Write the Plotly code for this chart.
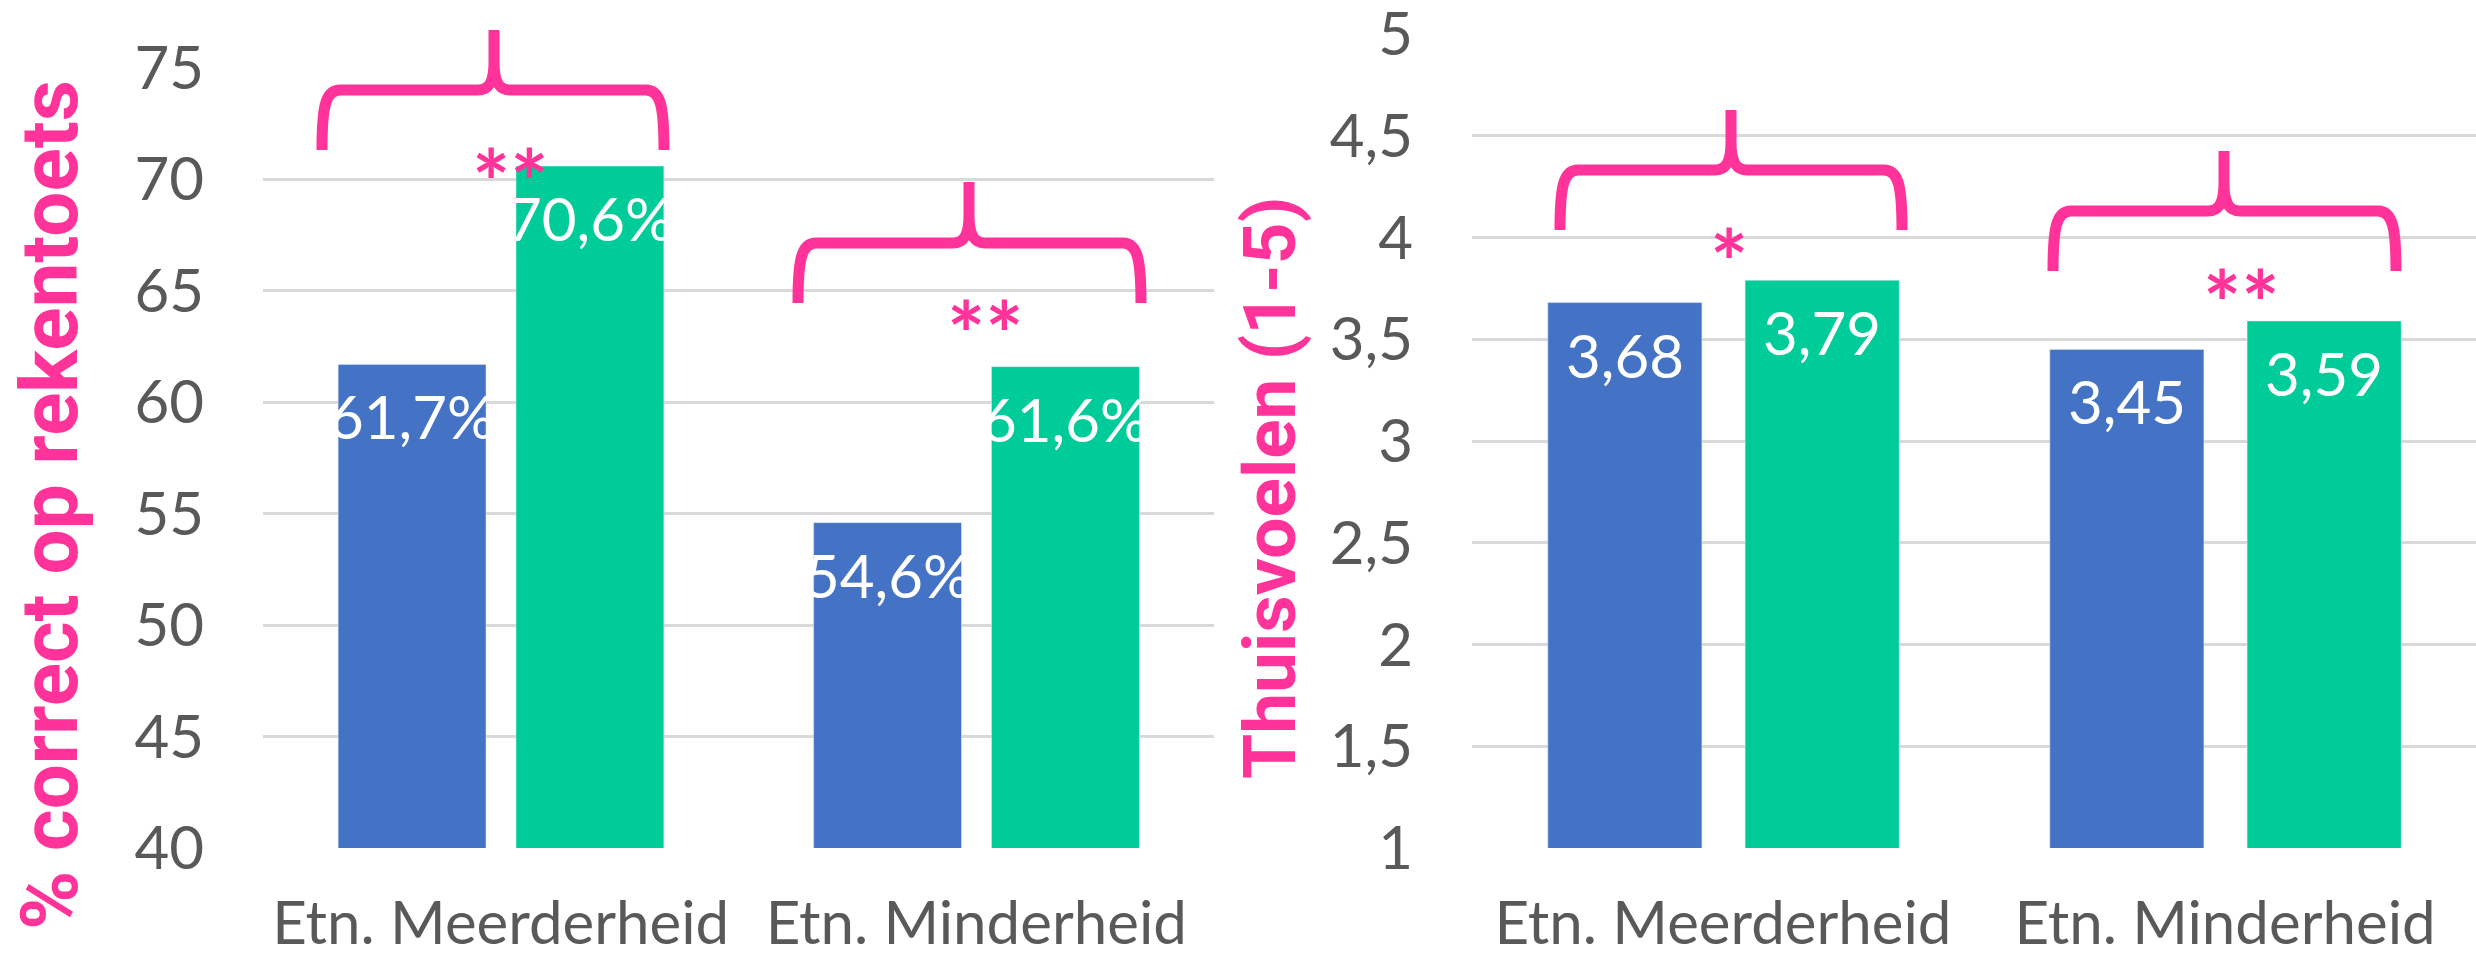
import plotly.graph_objects as go

# ---------------- data ----------------
categories = ["Etn. Meerderheid", "Etn. Minderheid"]
reken_blue = [61.7, 54.6]
reken_green = [70.6, 61.6]
thuis_blue = [3.68, 3.45]
thuis_green = [3.79, 3.59]
left_title = "% correct op rekentoets"
right_title = "Thuisvoelen (1-5)"
left_stars = ["**", "**"]
right_stars = ["*", "**"]

# ---------------- style ----------------
W, H = 2476, 956
BLUE = "#4472C4"
GREEN = "#00CC99"
PINK = "#FF3399"
GRID = "#D9D9D9"
TXT = "#595959"
FONT = "Lato"
TSIZE = 60


def px(x):
    return x / W


def py(y):
    return 1 - y / H


fig = go.Figure()

LW = 0.311
LOFF = (-0.342, 0.032)
RW = 0.307
ROFF = (-0.349, 0.044)

fig.add_trace(go.Bar(x=categories, y=reken_blue, marker_color=BLUE, width=LW, offset=LOFF[0],
                     xaxis="x", yaxis="y", showlegend=False, hoverinfo="skip"))
fig.add_trace(go.Bar(x=categories, y=reken_green, marker_color=GREEN, width=LW, offset=LOFF[1],
                     xaxis="x", yaxis="y", showlegend=False, hoverinfo="skip"))
fig.add_trace(go.Bar(x=categories, y=thuis_blue, marker_color=BLUE, width=RW, offset=ROFF[0],
                     xaxis="x2", yaxis="y2", showlegend=False, hoverinfo="skip"))
fig.add_trace(go.Bar(x=categories, y=thuis_green, marker_color=GREEN, width=RW, offset=ROFF[1],
                     xaxis="x2", yaxis="y2", showlegend=False, hoverinfo="skip"))

annotations = []
for i, (b, g) in enumerate(zip(reken_blue, reken_green)):
    for v, off in ((b, LOFF[0]), (g, LOFF[1])):
        annotations.append(dict(x=i + off + LW / 2, y=v, xref="x", yref="y",
                                text=f"{v:.1f}%".replace(".", ","), showarrow=False,
                                yshift=-52, yanchor="middle", xanchor="center",
                                font=dict(family=FONT, size=TSIZE, color="white")))
for i, (b, g) in enumerate(zip(thuis_blue, thuis_green)):
    for v, off in ((b, ROFF[0]), (g, ROFF[1])):
        annotations.append(dict(x=i + off + RW / 2, y=v, xref="x2", yref="y2",
                                text=f"{v:.2f}".replace(".", ","), showarrow=False,
                                yshift=-52, yanchor="middle", xanchor="center",
                                font=dict(family=FONT, size=TSIZE, color="white")))

annotations.append(dict(x=px(50), y=py(505), xref="paper", yref="paper", text="<b>" + left_title + "</b>",
                        textangle=-90, showarrow=False, xanchor="center", yanchor="middle",
                        font=dict(family="Roboto", size=80, color=PINK)))
annotations.append(dict(x=px(1270), y=py(488), xref="paper", yref="paper", text="<b>" + right_title + "</b>",
                        textangle=-90, showarrow=False, xanchor="center", yanchor="middle",
                        font=dict(family="Roboto", size=73, color=PINK)))

star_pos = [(510, 181), (986, 333), (1729, 261), (2241, 302)]
for s, (sx, sy) in zip(left_stars + right_stars, star_pos):
    annotations.append(dict(x=px(sx), y=py(sy), xref="paper", yref="paper", text="<b>" + s + "</b>",
                            showarrow=False, xanchor="center", yanchor="middle",
                            font=dict(family=FONT, size=90, color=PINK)))


def brace(xl, xr, xm, yb, yh, yt):
    def P(x, y):
        return f"{px(x):.5f},{py(y):.5f}"

    d = (f"M {P(xl, yb)} C {P(xl, yh + 18)} {P(xl + 3, yh)} {P(xl + 18, yh)} "
         f"L {P(xm - 16, yh)} C {P(xm - 4, yh)} {P(xm, yh - 10)} {P(xm, yh - 28)} L {P(xm, yt)} "
         f"M {P(xm, yh - 28)} C {P(xm, yh - 10)} {P(xm + 4, yh)} {P(xm + 16, yh)} "
         f"L {P(xr - 18, yh)} C {P(xr - 3, yh)} {P(xr, yh + 18)} {P(xr, yb)}")
    return dict(type="path", path=d, xref="paper", yref="paper",
                line=dict(color=PINK, width=11), layer="above")


shapes = [
    brace(322, 664, 494, 150, 90, 30),
    brace(798, 1141, 969, 303, 243, 182),
    brace(1560, 1902, 1731, 230, 170, 110),
    brace(2053, 2396, 2224, 271, 211, 151),
]

axis_common = dict(showline=False, zeroline=False, ticks="", automargin=False, ticklabeloverflow="allow",
                   tickfont=dict(family=FONT, size=TSIZE, color=TXT))

fig.update_layout(
    width=W, height=H,
    margin=dict(l=0, r=0, t=0, b=0, pad=0),
    paper_bgcolor="white", plot_bgcolor="white",
    separators=",.",
    barmode="group",
    showlegend=False,
    xaxis=dict(domain=[px(263), px(1214)], anchor="y", showgrid=False, ticklabelstandoff=35, **axis_common),
    yaxis=dict(domain=[py(848), py(68)], anchor="x", range=[40, 75], dtick=5, tick0=40,
               showgrid=True, gridcolor=GRID, gridwidth=2.5, ticklabelstandoff=58, **axis_common),
    xaxis2=dict(domain=[px(1472), 1.0], anchor="y2", showgrid=False, ticklabelstandoff=35, **axis_common),
    yaxis2=dict(domain=[py(848), py(34)], anchor="x2", range=[1, 5], dtick=0.5, tick0=1,
                showgrid=True, gridcolor=GRID, gridwidth=2.5, ticklabelstandoff=58, **axis_common),
    annotations=annotations,
    shapes=shapes,
)

fig.write_html("out.html", config={"displayModeBar": False},
               post_script="document.body.style.margin='0';document.body.style.overflow='hidden';")
